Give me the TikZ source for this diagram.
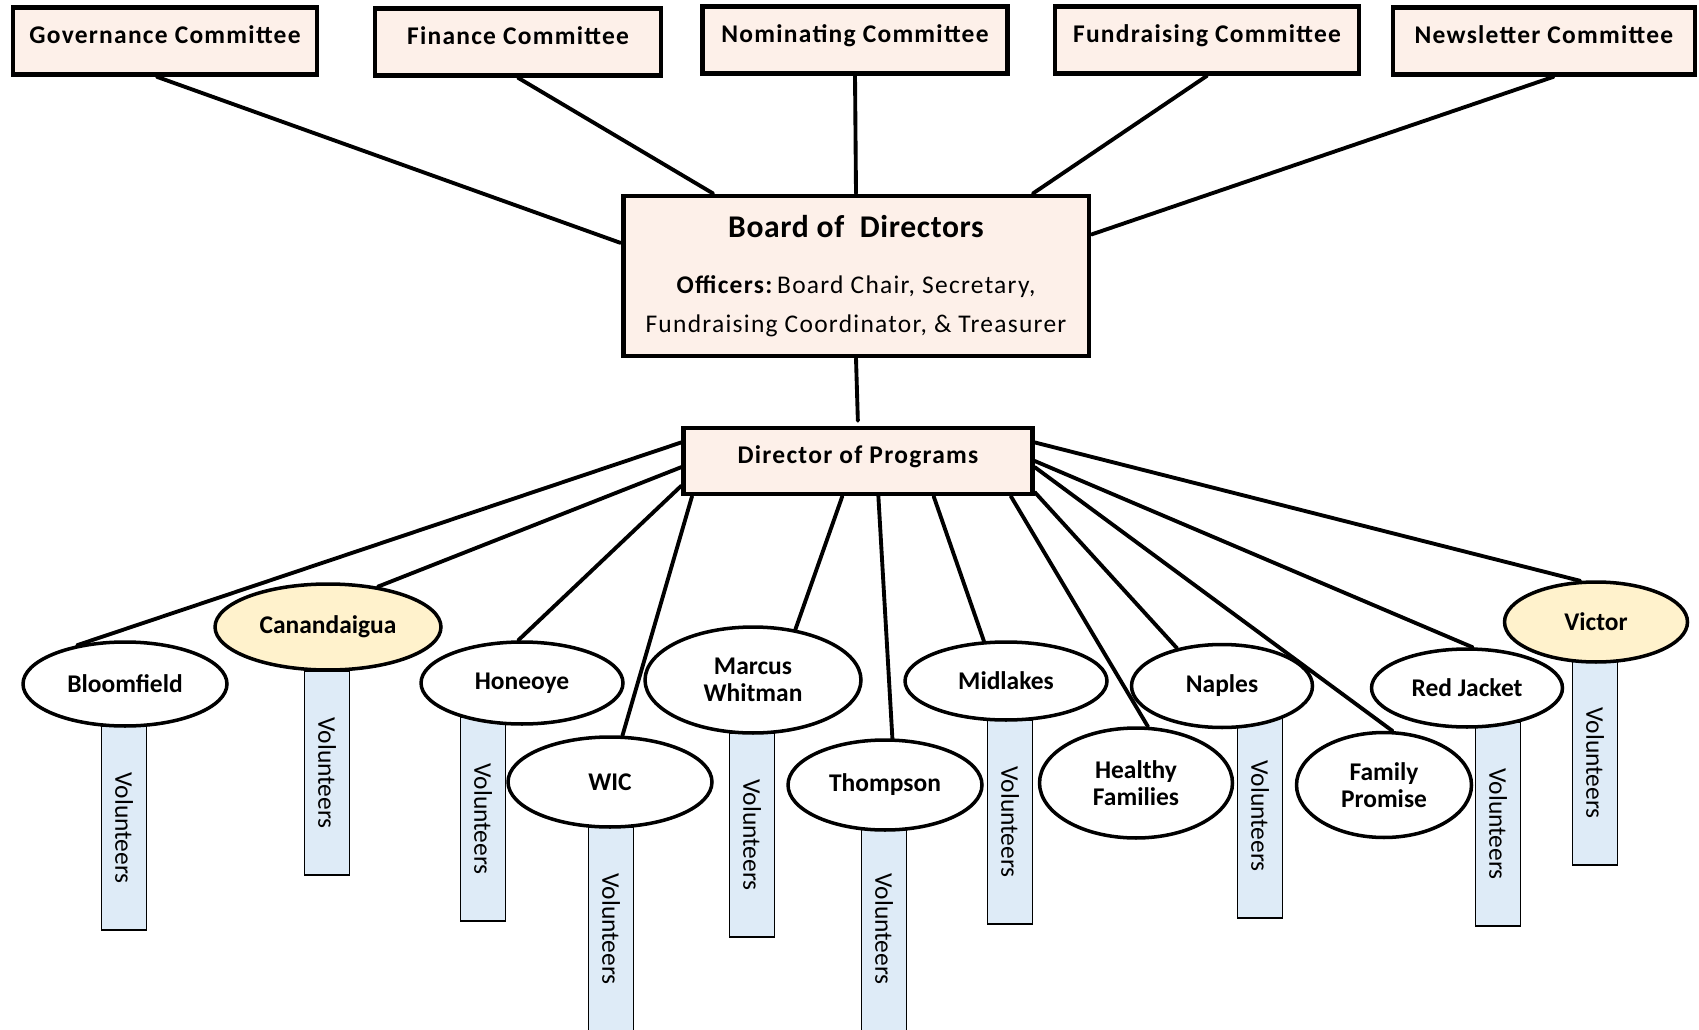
\documentclass[tikz,border=0pt]{standalone}
\usepackage{fontspec}
\setmainfont{Carlito}
\usepackage{xcolor}
\usepackage{tikz}
\usetikzlibrary{shapes.geometric}

\definecolor{boxfill}{RGB}{253,240,233}
\definecolor{siteyellow}{RGB}{255,242,204}
\definecolor{volblue}{RGB}{222,235,247}

\begin{document}
\begin{tikzpicture}[
  x=0.02cm, y=-0.02cm,
  comm/.style={draw, line width=2.6pt, fill=boxfill, minimum height=1.34cm, font=\fontsize{14.5}{17}\selectfont\bfseries\addfontfeatures{LetterSpace=5}, text height=0.35cm, text depth=0.25cm},
  board/.style={draw, line width=2.8pt, fill=boxfill, minimum width=9.32cm, minimum height=3.2cm, align=center, font=\fontsize{14.5}{22}\selectfont\addfontfeatures{LetterSpace=5}},
  site/.style={ellipse, draw, line width=2pt, fill=white, inner sep=0pt, align=center, font=\fontsize{14.5}{15.5}\selectfont\bfseries},
  vol/.style={draw, line width=0.9pt, fill=volblue, rotate=-90, minimum width=4.08cm, minimum height=0.9cm, inner sep=0pt, font=\fontsize{14.5}{17}\selectfont},
  link/.style={line width=2.2pt, line cap=round}
]

  \path[use as bounding box, fill=white] (0,0) rectangle (1699,1030);

  % Committees
  \node[comm, minimum width=6.08cm] (gov)  at (165,41)  {Governance Committee};
  \node[comm, minimum width=5.72cm] (fin)  at (518,42)  {Finance Committee};
  \node[comm, minimum width=6.1cm]  (nom)  at (855,40)  {Nominating Committee};
  \node[comm, minimum width=6.08cm] (fund) at (1207,40) {Fundraising Committee};
  \node[comm, minimum width=6.04cm] (news) at (1544,41) {Newsletter Committee};

  % Board and director
  \node[board] (board) at (856,276) {{\fontsize{18}{22}\selectfont\bfseries\addfontfeatures{LetterSpace=2}Board of\ \ Directors}\\[10pt]\textbf{Officers:}\kern-2pt\ Board Chair, Secretary,\\Fundraising Coordinator, \& Treasurer};
  \node[comm, minimum width=6.98cm, minimum height=1.32cm] (dop) at (858,461) {Director of Programs};

  % Volunteers (behind the sites)
  \node[vol] (vbloom)  at (124,828)  {Volunteers};
  \node[vol] (vcana)   at (327,773)  {Volunteers};
  \node[vol] (vhone)   at (483,819)  {Volunteers};
  \node[vol] (vwic)    at (611,929)  {Volunteers};
  \node[vol] (vmarcus) at (752,835)  {Volunteers};
  \node[vol] (vthom)   at (884,929)  {Volunteers};
  \node[vol] (vmid)    at (1010,822) {Volunteers};
  \node[vol] (vnaples) at (1260,816) {Volunteers};
  \node[vol] (vred)    at (1498,824) {Volunteers};
  \node[vol] (vvictor) at (1595,763) {Volunteers};

  % Program sites
  \node[site, minimum width=4.08cm, minimum height=1.68cm] (bloom)   at (125,684)  {Bloomfield};
  \node[site, fill=siteyellow, minimum width=4.52cm, minimum height=1.72cm] (cana) at (328,627) {Canandaigua};
  \node[site, minimum width=4.04cm, minimum height=1.64cm] (hone)    at (522,683)  {Honeoye};
  \node[site, minimum width=4.08cm, minimum height=1.8cm]  (wic)     at (610,782)  {WIC};
  \node[site, minimum width=4.32cm, minimum height=2.12cm] (marcus)  at (753,680)  {Marcus\\Whitman};
  \node[site, minimum width=3.88cm, minimum height=1.8cm]  (thom)    at (885,785)  {Thompson};
  \node[site, minimum width=4.04cm, minimum height=1.56cm] (mid)     at (1006,681) {Midlakes};
  \node[site, minimum width=3.86cm, minimum height=2.2cm]  (healthy) at (1136,783) {Healthy\\Families};
  \node[site, minimum width=3.62cm, minimum height=1.66cm] (naples)  at (1222,686) {Naples};
  \node[site, minimum width=3.5cm,  minimum height=2.1cm]  (family)  at (1384,785) {Family\\Promise};
  \node[site, minimum width=3.82cm, minimum height=1.56cm] (red)     at (1467,688) {Red Jacket};
  \node[site, fill=siteyellow, minimum width=3.66cm, minimum height=1.6cm] (victor) at (1596,622) {Victor};

  % Committee links
  \draw[link] (gov.257) -- (board.172);
  \draw[link] (fin.south) -- (board.150);
  \draw[link] (nom.south) -- (board.north);
  \draw[link] (fund.south) -- (board.25);
  \draw[link] (news.285) -- (board.10);
  \draw[link, shorten >=0.1cm] (board.south) -- (dop.north);

  % Program links
  \draw[link] (dop.174) -- (bloom.141);
  \draw[link] (dop.182) -- (cana.39);
  \draw[link] (dop.188) -- (hone.95);
  \draw[link] (dop.192) -- (wic.75);
  \draw[link] (dop.246) -- (marcus.50);
  \draw[link] (dop.300) -- (thom.81);
  \draw[link] (dop.335) -- (mid.119);
  \draw[link] (dop.347) -- (healthy.78);
  \draw[link] (dop.350) -- (naples.140);
  \draw[link] (dop.358) -- (family.81);
  \draw[link] (dop.0) -- (red.82);
  \draw[link] (dop.6) -- (victor.111);

\end{tikzpicture}
\end{document}
